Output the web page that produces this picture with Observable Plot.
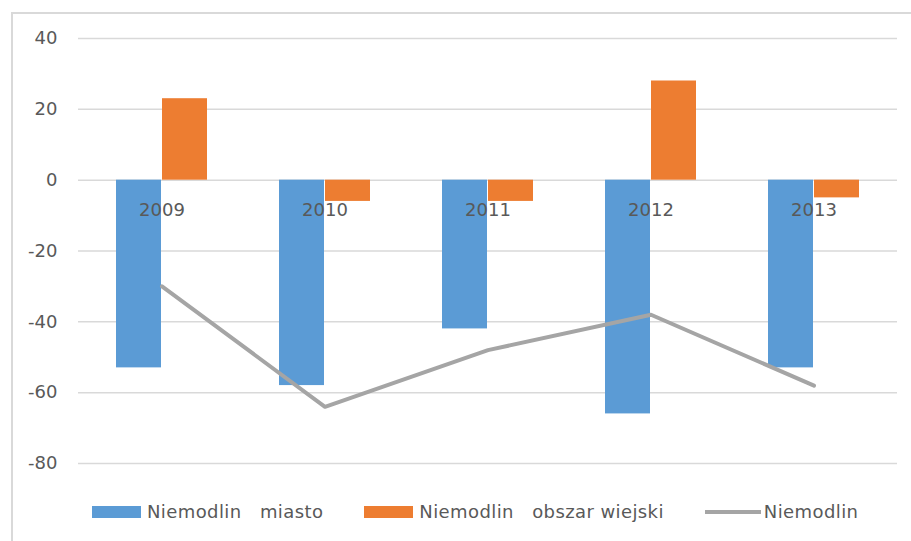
<!DOCTYPE html>
<html>
<head>
<meta charset="utf-8">
<script src="https://cdn.jsdelivr.net/npm/d3@7"></script>
<script src="https://cdn.jsdelivr.net/npm/@observablehq/plot@0.6"></script>
<style>
  html, body { margin: 0; padding: 0; background: #fff; }
  #wrap { position: relative; width: 911px; height: 541px; overflow: hidden; font-family: "DejaVu Sans", sans-serif; }
  #frame { position: absolute; left: 11px; top: 12px; width: 940px; height: 600px; border: 2px solid #d9d9d9; box-sizing: border-box; }
  #chart { position: absolute; left: 0; top: 0; }
  #legend { position: absolute; left: 92px; top: 503px; display: flex; align-items: center; font-size: 18px; line-height: 18px; color: #595959; white-space: pre; letter-spacing: 0.4px; }
  .item { display: flex; align-items: center; margin-right: 41px; }
  .sw { width: 49px; height: 12px; margin-right: 6px; }
  .ln { width: 56px; height: 4px; margin-right: 3px; }
</style>
</head>
<body>
<div id="wrap">
  <div id="frame"></div>
  <div id="chart"></div>
  <div id="legend"></div>
</div>
<script>
const years = ["2009", "2010", "2011", "2012", "2013"];
const miasto = [-53, -58, -42, -66, -53];
const obszarWiejski = [23, -6, -6, 28, -5];
const niemodlin = [-30, -64, -48, -38, -58];
const yTicks = [-80, -60, -40, -20, 0, 20, 40];

const seriesNames = ["Niemodlin   miasto", "Niemodlin   obszar wiejski", "Niemodlin"];
const colors = ["#5b9bd5", "#ed7d31", "#a5a5a5"];

const rowsM = years.map((y, i) => ({year: y, value: miasto[i]}));
const rowsO = years.map((y, i) => ({year: y, value: obszarWiejski[i]}));
const rowsN = years.map((y, i) => ({year: y, value: niemodlin[i]}));

const font = "DejaVu Sans, sans-serif";

const chart = Plot.plot({
  width: 911,
  height: 490,
  marginLeft: 78,
  marginRight: 14,
  marginTop: 38,
  marginBottom: 27,
  style: {fontFamily: font, fontSize: "18px", color: "#595959", background: "transparent"},
  x: {domain: years, padding: 0, axis: null},
  y: {domain: [-80, 40], ticks: yTicks, axis: null},
  marks: [
    Plot.gridY(yTicks, {stroke: "#d9d9d9", strokeOpacity: 1, strokeWidth: 1.5}),
    Plot.axisY(yTicks, {tickSize: 0, tickPadding: 21, fontSize: 18, fill: "#595959", label: null, tickFormat: d => String(d)}),
    Plot.barY(rowsM, {x: "year", y: "value", fill: colors[0], insetLeft: 36, insetRight: 82}),
    Plot.barY(rowsO, {x: "year", y: "value", fill: colors[1], insetLeft: 82, insetRight: 36}),
    Plot.text(years, {x: d => d, y: 0, text: d => d, dy: 30, fontSize: 18, fill: "#595959"}),
    Plot.line(rowsN, {x: "year", y: "value", stroke: colors[2], strokeWidth: 4, strokeLinejoin: "round", strokeLinecap: "round"})
  ]
});
document.getElementById("chart").appendChild(chart);

const legend = document.getElementById("legend");
seriesNames.forEach((name, i) => {
  const item = document.createElement("div");
  item.className = "item";
  const sw = document.createElement("div");
  sw.className = i === 2 ? "ln" : "sw";
  sw.style.background = colors[i];
  const t = document.createElement("span");
  t.textContent = name;
  item.appendChild(sw);
  item.appendChild(t);
  legend.appendChild(item);
});
</script>
</body>
</html>
